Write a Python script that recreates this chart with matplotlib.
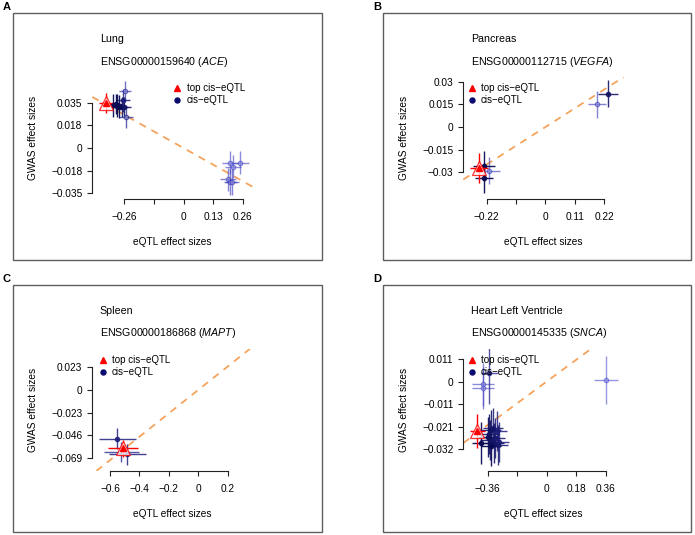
import matplotlib
matplotlib.use("Agg")
import matplotlib.pyplot as plt
from matplotlib.lines import Line2D
from matplotlib.patches import Rectangle
import numpy as np

plt.rcParams['font.family'] = ['Liberation Sans', 'DejaVu Sans']
plt.rcParams['mathtext.fontset'] = 'custom'
plt.rcParams['mathtext.rm'] = 'Liberation Sans'
plt.rcParams['mathtext.it'] = 'Liberation Sans:italic'

W, H = 695, 535

# ---- data (eQTL beta, GWAS beta, eQTL se, GWAS se, LD with top SNP) ----
lung_x = [-0.310, -0.298, -0.290, -0.283, -0.272, -0.260, -0.264, -0.257, -0.254,
          0.205, 0.246, 0.219, 0.195, 0.206, 0.213]
lung_y = [0.0330, 0.0340, 0.0328, 0.0321, 0.0317, 0.0317, 0.0368, 0.0438, 0.0243,
          -0.0114, -0.0114, -0.0145, -0.0243, -0.0262, -0.0264]
lung_xe = [0.03, 0.03, 0.03, 0.03, 0.03, 0.03, 0.03, 0.025, 0.03,
           0.035, 0.04, 0.035, 0.035, 0.03, 0.03]
lung_ye = [0.009, 0.008, 0.009, 0.009, 0.008, 0.008, 0.009, 0.008, 0.009,
           0.009, 0.009, 0.009, 0.009, 0.010, 0.010]
lung_ld = [1.0, 1.0, 1.0, 1.0, 0.9, 0.9, 0.8, 0.55, 0.65,
           0.4, 0.4, 0.4, 0.45, 0.45, 0.45]
lung_top = (-0.342, 0.0348, 0.03, 0.008)

panc_x = [-0.230, -0.230, -0.211, 0.194, 0.234]
panc_y = [-0.0258, -0.0340, -0.0290, 0.0150, 0.0219]
panc_xe = [0.040, 0.035, 0.040, 0.034, 0.036]
panc_ye = [0.010, 0.010, 0.009, 0.009, 0.009]
panc_ld = [1.0, 1.0, 0.45, 0.45, 0.9]
panc_top = (-0.250, -0.0274, 0.034, 0.010)

spl_x = [-0.550, -0.482, -0.523]
spl_y = [-0.0494, -0.0656, -0.0630]
spl_xe = [0.125, 0.125, 0.120]
spl_ye = [0.011, 0.011, 0.010]
spl_ld = [0.8, 0.8, 0.7]
spl_top = (-0.512, -0.0595, 0.10, 0.009)

hlv_x = [-0.350, -0.387, -0.387, 0.362, -0.403, -0.358, -0.348, -0.338, -0.328,
         -0.322, -0.314, -0.301, -0.297, -0.338, -0.354, -0.290]
hlv_y = [0.0041, -0.0014, -0.0032, 0.0009, -0.0291, -0.0263, -0.0279, -0.0228,
         -0.0219, -0.0294, -0.0270, -0.0235, -0.0302, -0.0307, -0.0247, -0.0285]
hlv_xe = [0.05, 0.066, 0.066, 0.074, 0.05, 0.06, 0.06, 0.06, 0.06,
          0.06, 0.06, 0.06, 0.06, 0.06, 0.06, 0.06]
hlv_ye = [0.015, 0.010, 0.010, 0.0114, 0.010, 0.0095, 0.0095, 0.0095, 0.0095,
          0.0095, 0.0095, 0.0095, 0.0095, 0.0095, 0.0095, 0.0095]
hlv_ld = [0.7, 0.4, 0.4, 0.35, 1.0, 0.95, 0.9, 0.9, 0.85,
          0.9, 0.85, 0.8, 0.85, 1.0, 0.9, 0.8]
hlv_top = (-0.4235, -0.0235, 0.046, 0.008)

# SMR slope of the dashed line
slopes = [-0.0986, 0.113, 0.119, 0.0574]

tissues = ["Lung", "Pancreas", "Spleen", "Heart Left Ventricle"]
genes = ["ENSG00000159640", "ENSG00000112715", "ENSG00000186868", "ENSG00000145335"]
symbols = ["ACE", "VEGFA", "MAPT", "SNCA"]
letters = ["A", "B", "C", "D"]

xticks = [[-0.26, -0.13, 0, 0.13, 0.26],
          [-0.22, -0.11, 0, 0.11, 0.22],
          [-0.6, -0.4, -0.2, 0, 0.2],
          [-0.36, -0.18, 0, 0.18, 0.36]]
xticklabels = [["−0.26", "", "0", "0.13", "0.26"],
               ["−0.22", "", "0", "0.11", "0.22"],
               ["−0.6", "−0.4", "−0.2", "0", "0.2"],
               ["−0.36", "", "0", "0.18", "0.36"]]
yticks = [[-0.035, -0.0175, 0, 0.0175, 0.035],
          [-0.03, -0.015, 0, 0.015, 0.03],
          [-0.069, -0.046, -0.023, 0, 0.023],
          [-0.0321, -0.0214, -0.0107, 0, 0.0107]]
yticklabels = [["−0.035", "−0.018", "0", "0.018", "0.035"],
               ["−0.03", "−0.015", "0", "0.015", "0.03"],
               ["−0.069", "−0.046", "−0.023", "0", "0.023"],
               ["−0.032", "−0.021", "−0.011", "0", "0.011"]]
xlims = [(-0.4005, 0.305), (-0.3075, 0.2937), (-0.720, 0.372), (-0.509, 0.472)]
ylims = [(-0.0396, 0.0549), (-0.0479, 0.0331), (-0.0824, 0.0419), (-0.0425, 0.0156)]

panels = [
    (lung_x, lung_y, lung_xe, lung_ye, lung_ld, lung_top),
    (panc_x, panc_y, panc_xe, panc_ye, panc_ld, panc_top),
    (spl_x, spl_y, spl_xe, spl_ye, spl_ld, spl_top),
    (hlv_x, hlv_y, hlv_xe, hlv_ye, hlv_ld, hlv_top),
]

FS_TITLE = 7.7
FS_AX = 7.3
FS_LEG = 7.0
ORANGE = '#F5A35C'
RED = '#FF0000'


def fx(px):
    return px / W


def fy(py):
    return 1 - py / H


def ld_colour(ld):
    dark = np.array([0.04, 0.04, 0.33])
    light = np.array([0.30, 0.30, 0.85])
    t = (1.0 - ld) / 0.7
    t = min(max(t, 0), 1)
    c = dark * (1 - t) + light * t
    alpha = 0.95 - 0.4 * t
    return tuple(c), alpha


fig = plt.figure(figsize=(W / 100, H / 100), dpi=100)

for i in range(4):
    col, row = i % 2, i // 2
    ox = 371 * col
    oy = 271.7 * row

    # panel frame
    fr_l, fr_t, fr_r, fr_b = 13 + 370 * col, 13 + oy, 322 + 369 * col, 260 + oy
    fig.add_artist(Rectangle((fx(fr_l), fy(fr_b)), fx(fr_r - fr_l), (fr_b - fr_t) / H,
                             transform=fig.transFigure, fill=False,
                             edgecolor='#5e5e5e', linewidth=1.0))
    fig.text(fx(6.7 + ox), fy(7.3 + oy), letters[i], fontsize=8, fontweight='bold',
             ha='center', va='center')

    left, top, right, bottom = 92.3 + ox, 77 + oy, 253 + ox, 199.3 + oy
    ax = fig.add_axes([fx(left), fy(bottom), fx(right - left), (bottom - top) / H])
    ax.patch.set_alpha(0)
    ax.set_xlim(*xlims[i])
    ax.set_ylim(*ylims[i])
    for s in ['top', 'right']:
        ax.spines[s].set_visible(False)
    ax.spines['left'].set_bounds(yticks[i][0], yticks[i][-1])
    ax.spines['bottom'].set_bounds(xticks[i][0], xticks[i][-1])
    for s in ['left', 'bottom']:
        ax.spines[s].set_linewidth(0.8)
        ax.spines[s].set_color('#222222')
    ax.set_xticks(xticks[i])
    ax.set_xticklabels(xticklabels[i])
    ax.set_yticks(yticks[i])
    ax.set_yticklabels(yticklabels[i])
    ax.tick_params(axis='both', labelsize=FS_AX, length=3.6, width=0.8, color='#222222')
    ax.tick_params(axis='x', pad=5.5)
    ax.tick_params(axis='y', pad=3.5)

    ax.axline((0, 0), slope=slopes[i], color=ORANGE, linestyle=(0, (4, 3.5)),
              linewidth=1.3, zorder=1)

    xs, ys, xes, yes, lds, tp = panels[i]
    order = np.argsort(lds)
    for k in order:
        c, a = ld_colour(lds[k])
        ax.errorbar(xs[k], ys[k], xerr=xes[k], yerr=yes[k], fmt='none',
                    ecolor=c, alpha=a, elinewidth=1.0, capsize=0, zorder=2)
        face = tuple(np.array(c) * 0.6 + 0.4) if lds[k] < 0.7 else c
        ax.plot(xs[k], ys[k], 'o', markersize=3.2, markerfacecolor=face,
                markeredgecolor=c, markeredgewidth=0.8, alpha=a, zorder=3)

    tx, ty, txe, tye = tp
    ax.errorbar(tx, ty, xerr=txe, yerr=tye, fmt='none', ecolor=RED,
                elinewidth=1.0, capsize=0, zorder=4)
    ax.plot(tx, ty, '^', markersize=10.5, markerfacecolor='white',
            markeredgecolor=RED, markeredgewidth=0.9, alpha=0.8, zorder=5)
    ax.plot(tx, ty, '^', markersize=4.8, color=RED, zorder=6)

    # titles
    fig.text(fx(left + 7.4), fy(39 + oy), tissues[i], fontsize=FS_TITLE,
             ha='left', va='center')
    fig.text(fx(left + 7.4), fy(61.7 + oy), genes[i] + " ($\\mathit{" + symbols[i] + "}$)",
             fontsize=FS_TITLE, ha='left', va='center')

    # legend
    lx = left + (85 if i == 0 else (10.4 if i == 2 else 8.4))
    ly = top + 11.3
    fig.add_artist(Line2D([fx(lx)], [fy(ly)], marker='^', color=RED, markersize=4.8,
                          linestyle='none', transform=fig.transFigure))
    fig.add_artist(Line2D([fx(lx)], [fy(ly + 12)], marker='o', color='#0a0a6e',
                          markersize=3.6, linestyle='none', transform=fig.transFigure))
    fig.text(fx(lx + 9.4), fy(ly), "top cis−eQTL", fontsize=FS_LEG, ha='left', va='center')
    fig.text(fx(lx + 9.4), fy(ly + 12), "cis−eQTL", fontsize=FS_LEG, ha='left', va='center')

    # axis titles
    fig.text(fx(left - 59.3), fy((top + bottom) / 2), "GWAS effect sizes", fontsize=FS_AX,
             rotation=90, ha='center', va='center')
    fig.text(fx((left + right) / 2), fy(bottom + 42.7), "eQTL effect sizes", fontsize=FS_AX,
             ha='center', va='center')

fig.savefig("out.png", dpi=100)
